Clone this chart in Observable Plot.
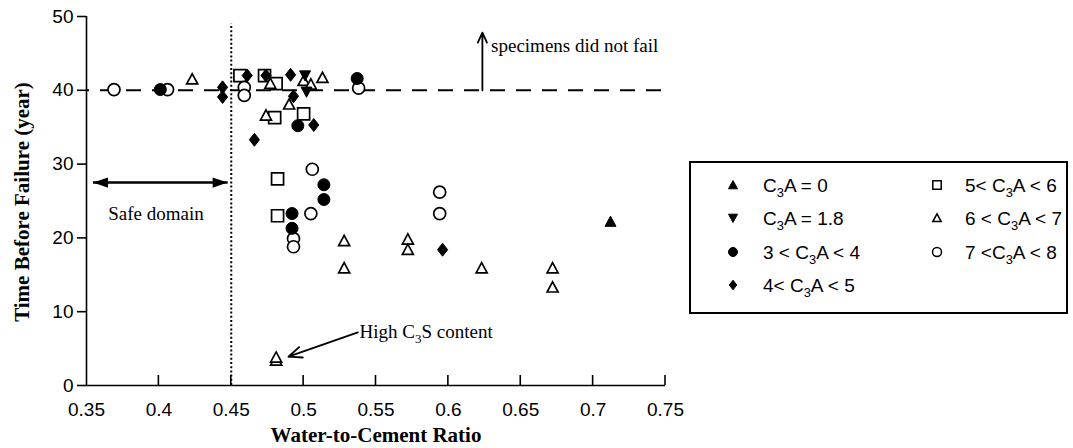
<!DOCTYPE html>
<html>
<head>
<meta charset="utf-8">
<script src="https://cdn.jsdelivr.net/npm/d3@7"></script>
<script src="https://cdn.jsdelivr.net/npm/@observablehq/plot@0.6"></script>
<style>
  body { margin: 0; background: #fff; }
  #chart { position: relative; width: 1073px; height: 448px; }
</style>
</head>
<body>
<div id="chart"></div>
<script>
// Time before failure (years) against water-to-cement ratio, grouped by C3A content
const c3a0X = [0.712];
const c3a0Y = [22.2];
const c3a18X = [0.501, 0.502];
const c3a18Y = [42.0, 39.8];
const c3a34X = [0.401, 0.537, 0.496, 0.514, 0.514, 0.492, 0.492];
const c3a34Y = [40.1, 41.6, 35.2, 27.2, 25.2, 23.3, 21.3];
const c3a45X = [0.444, 0.444, 0.461, 0.474, 0.491, 0.493, 0.507, 0.466, 0.596];
const c3a45Y = [40.4, 39.1, 42.0, 42.0, 42.1, 39.2, 35.3, 33.3, 18.4];
const c3a56X = [0.456, 0.473, 0.481, 0.480, 0.500, 0.482, 0.482];
const c3a56Y = [42.0, 42.0, 40.9, 36.3, 36.8, 28.0, 23.0];
const c3a67X = [0.423, 0.477, 0.500, 0.505, 0.513, 0.490, 0.474, 0.528, 0.528, 0.572, 0.572, 0.623, 0.672, 0.672, 0.481, 0.481];
const c3a67Y = [41.5, 40.9, 41.3, 40.8, 41.7, 38.1, 36.6, 19.6, 15.9, 19.8, 18.4, 15.9, 15.9, 13.3, 3.4, 3.8];
const c3a78X = [0.369, 0.406, 0.459, 0.459, 0.538, 0.506, 0.505, 0.493, 0.493, 0.594, 0.594];
const c3a78Y = [40.1, 40.1, 40.4, 39.3, 40.3, 29.3, 23.3, 19.9, 18.8, 26.2, 23.3];

// Axis ticks
const xTicks = [0.35, 0.4, 0.45, 0.5, 0.55, 0.6, 0.65, 0.7, 0.75];
const xTickLabels = ["0.35", "0.4", "0.45", "0.5", "0.55", "0.6", "0.65", "0.7", "0.75"];
const yTicks = [0, 10, 20, 30, 40, 50];

// Reference lines: no-failure cut-off and the safe w/c limit
const noFailureYears = [40];
const safeRatio = [0.45];
const safeRatioTop = 49;

// Annotations
const notFailArrow = [{x1: 0.6235, y1: 40, x2: 0.6235, y2: 47.8}];
const notFailText = [{x: 0.6295, y: 46.0, text: "specimens did not fail"}];
const safeArrow = [{x1: 0.3545, x2: 0.4475, y: 27.5}];
const safeText = [{x: 0.398, y: 23.3, text: "Safe domain"}];
const c3sArrow = [{x1: 0.5375, y1: 7.2, x2: 0.4895, y2: 3.9}];
const c3sText = {x: 0.539, y: 7.3};

// Marker shapes, sized from the dot radius
const rOf = size => Math.sqrt(size / Math.PI);
const triUp = {draw(c, s) { const r = rOf(s); c.moveTo(0, -r); c.lineTo(r, 0.85 * r); c.lineTo(-r, 0.85 * r); c.closePath(); }};
const triDown = {draw(c, s) { const r = rOf(s); c.moveTo(0, r); c.lineTo(r, -0.85 * r); c.lineTo(-r, -0.85 * r); c.closePath(); }};
const square = {draw(c, s) { const r = rOf(s); c.rect(-r, -r, 2 * r, 2 * r); }};
const circle = {draw(c, s) { const r = rOf(s); c.moveTo(r, 0); c.arc(0, 0, r, 0, 2 * Math.PI); c.closePath(); }};
const rhombus = {draw(c, s) { const r = rOf(s); c.moveTo(0, -r); c.lineTo(0.78 * r, 0); c.lineTo(0, r); c.lineTo(-0.78 * r, 0); c.closePath(); }};
const headRight = {draw(c, s) { const r = rOf(s); c.moveTo(0, 0); c.lineTo(-2 * r, -0.68 * r); c.lineTo(-2 * r, 0.68 * r); c.closePath(); }};

const groups = [
  {pre: "", post: "A = 0", xs: c3a0X, ys: c3a0Y, symbol: triUp, filled: true, r: 5.5, lr: 4.5},
  {pre: "", post: "A = 1.8", xs: c3a18X, ys: c3a18Y, symbol: triDown, filled: true, r: 5.5, lr: 4.5},
  {pre: "3 < ", post: "A < 4", xs: c3a34X, ys: c3a34Y, symbol: circle, filled: true, r: 6, lr: 4.5},
  {pre: "4< ", post: "A < 5", xs: c3a45X, ys: c3a45Y, symbol: rhombus, filled: true, r: 6.5, lr: 4.8},
  {pre: "5< ", post: "A < 6", xs: c3a56X, ys: c3a56Y, symbol: square, filled: false, r: 6, lr: 4.2},
  {pre: "6 < ", post: "A < 7", xs: c3a67X, ys: c3a67Y, symbol: triUp, filled: false, r: 5.5, lr: 4.2},
  {pre: "7 <", post: "A < 8", xs: c3a78X, ys: c3a78Y, symbol: circle, filled: false, r: 6, lr: 4.5}
];
const rows = groups.map(g => g.xs.map((x, i) => ({x, y: g.ys[i]})));

const serif = "'Liberation Serif', 'Times New Roman', serif";
const sans = "'Liberation Sans', Arial, Helvetica, sans-serif";

const drawOrder = [4, 5, 6, 0, 1, 2, 3];
const dotMarks = drawOrder.map(k => {
  const g = groups[k];
  return Plot.dot(rows[k], {
    x: "x", y: "y", symbol: g.symbol, r: g.r,
    fill: g.filled ? "black" : "white",
    stroke: "black", strokeWidth: g.filled ? 1 : 1.7
  });
});

const chart = Plot.plot({
  width: 1073,
  height: 448,
  marginLeft: 86,
  marginRight: 408,
  marginTop: 16,
  marginBottom: 63,
  style: {fontFamily: sans, background: "white", color: "black"},
  x: {domain: [0.35, 0.75]},
  y: {domain: [0, 50]},
  marks: [
    Plot.ruleY(noFailureYears, {x1: 0.35, x2: 0.75, stroke: "black", strokeWidth: 2, strokeDasharray: "15,11", strokeDashoffset: -14}),
    Plot.ruleX(safeRatio, {y1: 0, y2: safeRatioTop, stroke: "black", strokeWidth: 2, strokeDasharray: "2,2.2"}),
    ...dotMarks,
    Plot.ruleY([0], {stroke: "black", strokeWidth: 1.6}),
    Plot.ruleX([0.35], {stroke: "black", strokeWidth: 1.6}),
    Plot.axisY({ticks: yTicks, tickSize: 9, tickPadding: 4, tickFormat: d => String(d), fontSize: 19, fontFamily: sans, strokeWidth: 1.6, label: null}),
    Plot.axisX({ticks: xTicks, tickSize: 0, tickPadding: 17, tickFormat: (d, i) => xTickLabels[i], fontSize: 19, fontFamily: sans, label: null}),
    // "specimens did not fail"
    Plot.arrow(notFailArrow, {x1: "x1", y1: "y1", x2: "x2", y2: "y2", stroke: "black", strokeWidth: 1.8, headLength: 9, headAngle: 50}),
    Plot.text(notFailText, {x: "x", y: "y", text: "text", textAnchor: "start", fontFamily: serif, fontSize: 19, fill: "black"}),
    // Safe domain double arrow
    Plot.link(safeArrow, {x1: "x1", x2: "x2", y1: "y", y2: "y", stroke: "black", strokeWidth: 2.5}),
    Plot.dot(safeArrow, {x: "x2", y: "y", symbol: headRight, r: 7.5, fill: "black", stroke: "none"}),
    Plot.dot(safeArrow, {x: "x1", y: "y", symbol: headRight, r: 7.5, rotate: 180, fill: "black", stroke: "none"}),
    Plot.text(safeText, {x: "x", y: "y", text: "text", fontFamily: serif, fontSize: 19, fill: "black"}),
    // High C3S pointer
    Plot.arrow(c3sArrow, {x1: "x1", y1: "y1", x2: "x2", y2: "y2", stroke: "black", strokeWidth: 1.8, headLength: 12, headAngle: 45})
  ]
});

document.getElementById("chart").appendChild(chart);

const svg = d3.select(chart);
const sx = chart.scale("x"), sy = chart.scale("y");

// Inward x ticks on the bottom axis
const tickGroup = svg.append("g").attr("stroke", "black").attr("stroke-width", 1.6);
xTicks.slice(1).forEach(t => {
  const px = sx.apply(t), py = sy.apply(0);
  tickGroup.append("line").attr("x1", px).attr("x2", px).attr("y1", py).attr("y2", py - 10);
});

// Text with a lowered subscript "3"
function subText(g, x, y, pre, base, post, font, size, anchor) {
  const t = g.append("text")
    .attr("x", x).attr("y", y)
    .attr("font-family", font).attr("font-size", size)
    .attr("fill", "black").attr("text-anchor", anchor || "start")
    .attr("dominant-baseline", "central");
  t.append("tspan").text(pre + base);
  t.append("tspan").attr("font-size", size * 0.68).attr("dy", size * 0.38).text("3");
  t.append("tspan").attr("dy", -size * 0.38).text(post);
  return t;
}

const ann = svg.append("g");
subText(ann, sx.apply(c3sText.x), sy.apply(c3sText.y), "High ", "C", "S content", serif, 19);

// Axis titles
ann.append("text")
  .attr("x", 376).attr("y", 442)
  .attr("text-anchor", "middle")
  .attr("font-family", serif).attr("font-weight", "bold").attr("font-size", 21)
  .text("Water-to-Cement Ratio");
ann.append("text")
  .attr("transform", "translate(29,202) rotate(-90)")
  .attr("text-anchor", "middle")
  .attr("font-family", serif).attr("font-weight", "bold").attr("font-size", 21)
  .text("Time Before Failure (year)");

// Legend box
const leg = svg.append("g");
leg.append("rect")
  .attr("x", 690).attr("y", 162).attr("width", 377).attr("height", 151)
  .attr("fill", "white").attr("stroke", "black").attr("stroke-width", 2);
const colSym = [733, 937], colText = [763, 965];
const rowY = [185, 218, 252, 285];
groups.forEach((g, i) => {
  const col = i < 4 ? 0 : 1;
  const row = i < 4 ? i : i - 4;
  const y = rowY[row];
  leg.append("path")
    .attr("transform", `translate(${colSym[col]},${y})`)
    .attr("d", d3.symbol(g.symbol, Math.PI * g.lr * g.lr)())
    .attr("fill", g.filled ? "black" : "white")
    .attr("stroke", "black").attr("stroke-width", g.filled ? 1 : 1.5);
  subText(leg, colText[col], y, g.pre, "C", g.post, sans, 19);
});
</script>
</body>
</html>
